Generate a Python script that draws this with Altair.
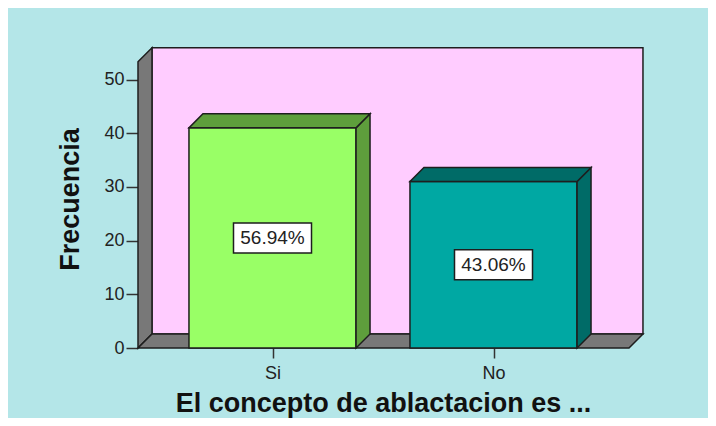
import json
import altair as alt
import pandas as pd

# ---- data ----
categories = ["Si", "No"]
frequencies = [41, 31]
y_ticks = [0, 10, 20, 30, 40, 50]

# ---- style constants (3D look, in scale units) ----
BAR_W = 0.756
DX = 0.0633
DY = 2.61
WALL_L = -0.6086
WALL_R = 1.613
WALL_H = 53.3
X_DOM = [-0.6086, 1.9253]
Y_MAX = 57.36

BG = "#b4e6e8"
PINK = "#ffccff"
GRAY = "#787878"
FRONT = ["#99ff66", "#00a8a3"]
DARK = ["#5e9e3c", "#006b67"]
EDGE = "#1e1e1e"
FONT = "Liberation Sans"

total = sum(frequencies)
pcts = [f"{100 * f / total:.2f}%" for f in frequencies]

# ---- polygons as areas (x, upper, lower) ----
rows = []


def poly(name, pts, fill):
    for k, (x, yu, yl) in enumerate(pts):
        rows.append({"poly": name, "k": k, "x": x, "y": yu, "y2": yl, "fill": fill})


L, R, H = WALL_L, WALL_R, WALL_H
poly("a_back", [(L + DX, H + DY, DY), (R + DX, H + DY, DY)], PINK)
poly("b_left", [(L, H, 0), (L + DX, H + DY, DY)], GRAY)
poly("c_floor", [(L, 0, 0), (L + DX, DY, 0), (R, DY, 0), (R + DX, DY, DY)], GRAY)
walls = pd.DataFrame(rows)

rows = []
fronts = []
for i, (cat, v) in enumerate(zip(categories, frequencies)):
    xl, xr = i - BAR_W / 2, i + BAR_W / 2
    fronts.append({"x": xl, "x2": xr, "y": 0, "y2": v, "fill": FRONT[i]})
    poly(f"{cat}_side", [(xr, v, 0), (xr + DX, v + DY, DY)], DARK[i])
    poly(f"{cat}_top", [(xl, v, v), (xl + DX, v + DY, v), (xr, v + DY, v), (xr + DX, v + DY, v + DY)], DARK[i])
faces = pd.DataFrame(rows)
fronts = pd.DataFrame(fronts)

labels = pd.DataFrame({
    "x": list(range(len(categories))),
    "y": [v / 2 for v in frequencies],
    "pct": pcts,
})

label_expr = f"{json.dumps(categories)}[datum.value]"

x_axis = alt.Axis(
    values=list(range(len(categories))), labelExpr=label_expr,
    title="El concepto de ablactacion es ...", domain=False, grid=False,
    tickSize=10, tickWidth=1.5, tickColor="#333333",
    labelFont=FONT, labelFontSize=18, labelColor="#222222", labelPadding=6,
    titleFont=FONT, titleFontSize=27, titleFontWeight="bold", titleColor="#111111",
    titleX=245, titleY=55, titleBaseline="middle", titleAlign="center",
)
y_axis = alt.Axis(
    values=y_ticks, title="Frecuencia", domain=False, grid=False,
    tickSize=12, tickWidth=1.5, tickColor="#333333",
    labelFont=FONT, labelFontSize=18, labelColor="#222222", labelPadding=2,
    titleFont=FONT, titleFontSize=27, titleFontWeight="bold", titleColor="#111111",
    titleX=-68, titleY=159, titleAngle=270, titleBaseline="middle", titleAlign="center",
)
xs = alt.Scale(domain=X_DOM, nice=False, zero=False)
ys = alt.Scale(domain=[0, Y_MAX], nice=False)

X = alt.X("x:Q", scale=xs, axis=x_axis)
Y = alt.Y("y:Q", scale=ys, axis=y_axis)

wall_layer = alt.Chart(walls).mark_area(stroke=EDGE, strokeWidth=1.5, opacity=1).encode(
    x=X, y=Y, y2="y2:Q", detail="poly:N",
    color=alt.Color("fill:N", scale=None),
)
front_layer = alt.Chart(fronts).mark_rect(stroke=EDGE, strokeWidth=1.5).encode(
    x=X, x2="x2:Q", y=Y, y2="y2:Q", color=alt.Color("fill:N", scale=None),
)
face_layer = alt.Chart(faces).mark_area(stroke=EDGE, strokeWidth=1.5, opacity=1).encode(
    x=X, y=Y, y2="y2:Q", detail="poly:N",
    color=alt.Color("fill:N", scale=None),
)
box_layer = alt.Chart(labels).mark_point(
    shape="M-1,-0.385L1,-0.385L1,0.385L-1,0.385Z", size=6084,
    filled=True, fill="white", stroke=EDGE, strokeWidth=1.5, opacity=1,
).encode(x=X, y=Y)
text_layer = alt.Chart(labels).mark_text(
    font=FONT, fontSize=19, color="#222222", baseline="middle", align="center",
).encode(x=X, y=Y, text="pct:N")

chart = alt.layer(wall_layer, front_layer, face_layer, box_layer, text_layer).properties(
    width=560, height=308,
    autosize=alt.AutoSizeParams(type="none"),
    padding={"left": 130, "top": 32, "right": 10, "bottom": 70},
    background=BG,
).configure_view(strokeWidth=0)

chart.save("out.html", embed_options={"renderer": "svg", "actions": False})
